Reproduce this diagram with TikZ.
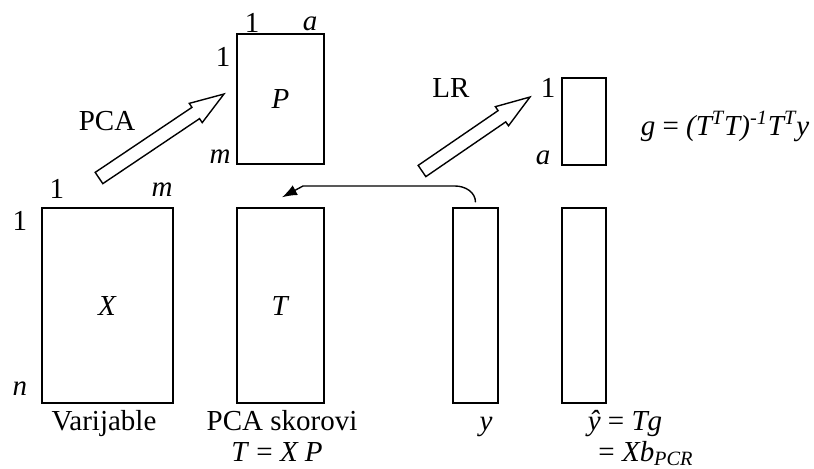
\documentclass[tikz,border=0pt]{standalone}
\usepackage{fontspec}
\setmainfont{Liberation Serif}
\usetikzlibrary{arrows.meta,calc}

\tikzset{
  matbox/.style={draw, line width=0.7pt, inner sep=0pt},
  conn/.style={line width=0.7pt, -{Latex[length=7.5pt,width=5.5pt]}},
}
% hollow block arrow from #1 (tail) to #2 (tip)
\newcommand{\blockarrow}[2]{%
  \draw[line width=0.7pt] let \p1=($(#2)-(#1)$), \n1={atan2(\y1,\x1)}, \n2={veclen(\x1,\y1)} in
    [shift={(#1)}, rotate=\n1] (0pt,3.4pt) -- ({\n2*1pt-17pt},3.4pt) -- ({\n2*1pt-17pt},5.8pt)
    -- ({\n2*1pt},0pt) -- ({\n2*1pt-17pt},-5.8pt) -- ({\n2*1pt-17pt},-3.4pt) -- (0pt,-3.4pt) -- cycle;}

\begin{document}
\begin{tikzpicture}[x=0.5pt, y=-0.5pt, font=\fontsize{14.5}{17}\selectfont]
    \useasboundingbox (0,0) rectangle (814,468);
    % matrices
    \node[matbox, minimum width=65.5pt, minimum height=97.5pt] (X) at (107.5,305.5) {\textit{X}};
    \node[matbox, minimum width=43.5pt, minimum height=97.5pt] (T) at (280.5,305.5) {\textit{T}};
    \node[matbox, minimum width=22.5pt, minimum height=97.5pt] (yv) at (475.5,305.5) {};
    \node[matbox, minimum width=22pt, minimum height=97.5pt] (yhat) at (584,305.5) {};
    \node[matbox, minimum width=43.5pt, minimum height=65pt] (P) at (280.5,99) {\textit{P}};
    \node[matbox, minimum width=22pt, minimum height=43.5pt] (g) at (584,121.5) {};
    % indices
    \node (xcol1) at (57,189) {1}; \node (xcolm) at (162,190) {\textit{m}};
    \node (xrow1) at (20,221) {1}; \node (xrown) at (20,389) {\textit{n}};
    \node (pcol1) at (252,23) {1}; \node (pcola) at (310,24) {\textit{a}};
    \node (prow1) at (223,57) {1}; \node (prowm) at (220,157) {\textit{m}};
    \node (grow1) at (548,88) {1}; \node (growa) at (543,158) {\textit{a}};
    % captions
    \node[anchor=base] (varlbl) at (104,430) {Varijable};
    \node[anchor=base] (scorelbl) at (282,430) {PCA skorovi};
    \node[anchor=base] (scoreeq) at (277,461) {\textit{T} = \textit{X P}};
    \node[anchor=base] (ylbl) at (486,430) {\textit{y}};
    \node[anchor=base] (yhatlbl) at (625,430) {\textit{ŷ} = \textit{Tg}};
    \node[anchor=base] (yhateq) at (646,461) {= \textit{Xb}\textsubscript{\textit{PCR}}};
    \node[anchor=base] (geq) at (725,135) {\textit{g} = \textit{(T\textsuperscript{T}T)\textsuperscript{-1}T\textsuperscript{T}y}};
    \node (pcalbl) at (107,121) {PCA};
    \node (lrlbl) at (451,88) {LR};
    % block arrows
    \coordinate (pcatail) at (99,178); \coordinate (pcatip) at (224,94);
    \coordinate (lrtail) at (422,171); \coordinate (lrtip) at (530,97);
    \blockarrow{pcatail}{pcatip}
    \blockarrow{lrtail}{lrtip}
    % y back to the scores
    \coordinate (bend) at (303,186);
    \draw[conn] ([yshift=2.5pt]yv.north) to[out=90,in=0] (455,186) -- (bend) -- ([shift={(0.75pt,5pt)}]T.north);
\end{tikzpicture}
\end{document}
